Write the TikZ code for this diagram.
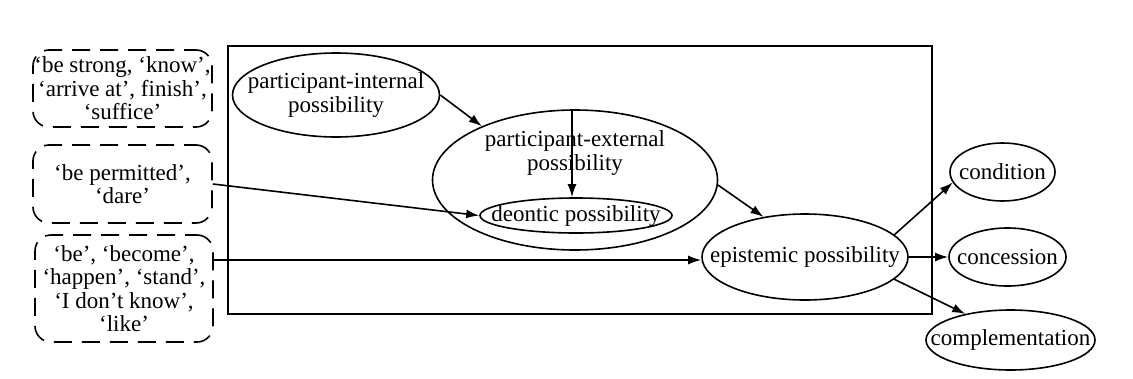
\documentclass[tikz,border=0pt]{standalone}
\usepackage{fontspec}
\setmainfont{Liberation Serif}
\usetikzlibrary{shapes.geometric,arrows.meta}
\begin{document}
\begin{tikzpicture}[x=1pt,y=-1pt,
  every node/.style={font=\fontsize{23}{23.5}\selectfont},
  ell/.style={draw, ellipse, line width=1.6pt, inner sep=0pt},
  txt/.style={align=center, inner sep=0pt},
  dbox/.style={draw, line width=1.6pt, rounded corners=16pt, dash pattern=on 18pt off 10pt, dash phase=6pt, inner sep=0pt},
  arr/.style={line width=1.6pt, -{Latex[length=13pt,width=9pt]}},
  ln/.style={line width=1.6pt}]
\useasboundingbox (0,0) rectangle (1133,378);
% frame
\node[draw, line width=1.6pt, minimum width=704pt, minimum height=268pt, inner sep=0pt] (frame) at (580,180) {};
% dashed boxes
\node[dbox, minimum width=179pt, minimum height=77pt] (b1) at (122.5,88.5) {};
\node[txt] (t1) at (b1) {‘be strong, ‘know’,\\‘arrive at’, finish’,\\‘suffice’};
\node[dbox, minimum width=179pt, minimum height=78pt] (b2) at (122.5,184) {};
\node[txt] (t2) at (b2) {‘be permitted’,\\‘dare’};
\node[dbox, minimum width=178pt, minimum height=107pt] (b3) at (124,288.5) {};
\node[txt] (t3) at (b3) {‘be’, ‘become’,\\‘happen’, ‘stand’,\\‘I don’t know’,\\‘like’};
% ellipses
\node[ell, minimum width=207pt, minimum height=84pt] (pi) at (336,95) {};
\node[txt] (tpi) at (pi) {participant-internal\\possibility};
\node[ell, minimum width=285pt, minimum height=140pt] (pe) at (575,180) {};
\node[txt] (tpe) at (575,153) {participant-external\\possibility};
\node[ell, minimum width=192pt, minimum height=35pt] (deo) at (576,215.5) {};
\node[txt] (tdeo) at (deo) {deontic possibility};
\node[ell, minimum width=206pt, minimum height=86pt] (ep) at (805,257) {};
\node[txt] (tep) at (ep) {epistemic possibility};
\node[ell, minimum width=105pt, minimum height=58pt] (co) at (1002.5,172) {};
\node[txt] (tco) at (co) {condition};
\node[ell, minimum width=117pt, minimum height=58pt] (cs) at (1007.5,257) {};
\node[txt] (tcs) at (cs) {concession};
\node[ell, minimum width=169pt, minimum height=60pt] (cm) at (1010.5,340) {};
\node[txt] (tcm) at (cm) {complementation};
% connectors
\draw[arr] (pi.east) -- (pe.150);
\draw[arr] (pe.north -| 572,0) -- (deo.north -| 572,0);
\draw[arr] (b2.east) -- (deo.west);
\coordinate (b3out) at (b3.east |- 0,260);
\draw[arr] (b3out) -- (ep.west |- b3out);
\draw[arr] (pe.-2) -- (ep.136);
\draw[arr] (ep.14) -- (co.192);
\draw[arr] (ep.east) -- (cs.west);
\draw[arr] (ep.-14) -- (cm.150);
\end{tikzpicture}
\end{document}
